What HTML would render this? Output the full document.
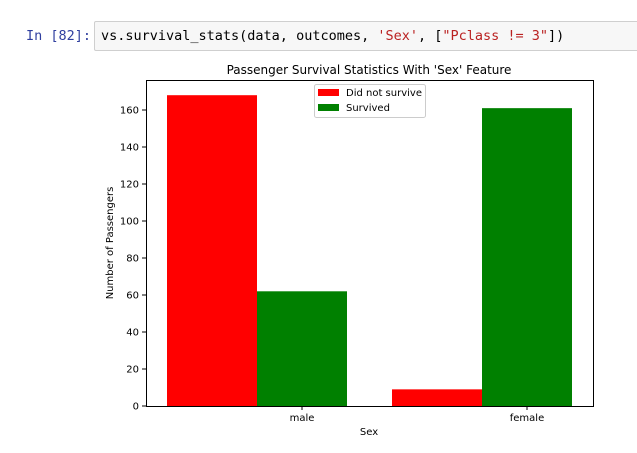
<!DOCTYPE html>
<html><head><meta charset="utf-8"><style>
body{margin:0;background:#fff;width:637px;height:453px;overflow:hidden;position:relative;font-family:"DejaVu Sans","Liberation Sans",sans-serif}
.prompt{position:absolute;left:26px;top:28px;color:#303f9f;font-family:"DejaVu Sans Mono","Liberation Mono",monospace;font-size:13.5px}
.cell{position:absolute;left:94px;top:21px;width:550px;height:30px;background:#f7f7f7;border:1px solid #cfcfcf;border-radius:2px;box-sizing:border-box}
.code{position:absolute;left:6px;top:6px;font-family:"DejaVu Sans Mono","Liberation Mono",monospace;font-size:13.5px;color:#000;white-space:pre}
.s{color:#ba2121}
</style></head><body>
<div class="prompt">In [82]:</div>
<div class="cell"><div class="code">vs.survival_stats(data, outcomes, <span class="s">'Sex'</span>, [<span class="s">"Pclass != 3"</span>])</div></div>
<svg id="c" width="637" height="453" style="position:absolute;left:0;top:0" font-family="DejaVu Sans, Liberation Sans, sans-serif"></svg>
<script>
const categories=["male","female"];
const notSurvived=[168,9];
const survived=[62,161];
const yTicks=[0,20,40,60,80,100,120,140,160];
const L=146,R=593,T=80,B=406;
const NS="http://www.w3.org/2000/svg";
const svg=document.getElementById('c');
function y(v){return B-v*(296/160);}
function xc(i){return 302+i*225;}
function mk(t,a,txt){const e=document.createElementNS(NS,t);for(const k in a)e.setAttribute(k,a[k]);if(txt!=null)e.textContent=txt;svg.appendChild(e);return e;}
const title=mk('text',{x:369,y:74,'text-anchor':'middle','font-size':12},"Passenger Survival Statistics With 'Sex' Feature");


categories.forEach((c,i)=>{
 const r=mk('rect',{x:xc(i)-135,y:y(notSurvived[i]),width:90,height:B-y(notSurvived[i]),fill:'#ff0000'});
 
 
 const g=mk('rect',{x:xc(i)-45,y:y(survived[i]),width:90,height:B-y(survived[i]),fill:'#008000'});
 
 
 mk('line',{x1:xc(i),x2:xc(i),y1:B,y2:B+4,stroke:'#000'});
 const t=mk('text',{x:xc(i),y:B+15,'text-anchor':'middle','font-size':10},c);
 
 
});
yTicks.forEach(v=>{
 mk('line',{x1:L-4,x2:L,y1:y(v),y2:y(v),stroke:'#000'});
 const t=mk('text',{x:L-7,y:y(v)+3.5,'text-anchor':'end','font-size':10},v);
 
 
});
const fr=mk('rect',{x:L+.5,y:T+.5,width:R-L,height:B-T,fill:'none',stroke:'#000'});


const xl=mk('text',{x:369,y:435,'text-anchor':'middle','font-size':10},'Sex');


const yl=mk('text',{x:0,y:0,'text-anchor':'middle','font-size':10,transform:'translate(113,243) rotate(-90)'},'Number of Passengers');


const lg=mk('rect',{x:314.5,y:84.5,width:111,height:33,fill:'#fff',stroke:'#ccc',rx:2});


[['Did not survive','#ff0000'],['Survived','#008000']].forEach((d,i)=>{
 mk('rect',{x:318,y:89+i*15,width:21,height:7,fill:d[1]});
 const t=mk('text',{x:346,y:96+i*15,'font-size':10},d[0]);
 
 
});
</script>
</body></html>
